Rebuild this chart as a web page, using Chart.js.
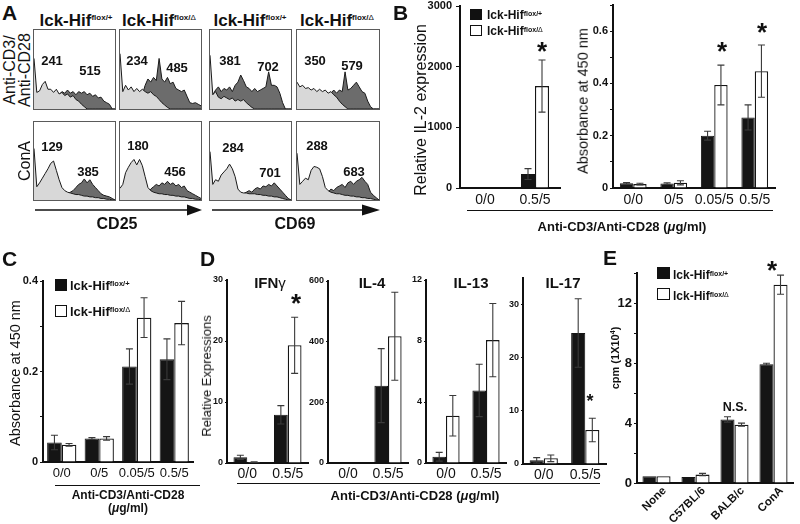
<!DOCTYPE html>
<html><head><meta charset="utf-8">
<script src="https://cdn.jsdelivr.net/npm/chart.js@4.4.1/dist/chart.umd.min.js"></script>
<style>
html,body{margin:0;padding:0;background:#fff;}
body{width:800px;height:524px;overflow:hidden;position:relative;font-family:'Liberation Sans',Arial,Helvetica,sans-serif;color:#111;}
.box{position:absolute;}
.t{position:absolute;white-space:nowrap;line-height:1;color:#111;}
.sq{position:absolute;box-sizing:border-box;}
.rule{position:absolute;height:0;border-top:1.5px solid #111;}
</style></head><body>
<script>
// ===================== DATA =====================
// Panel A: flow histograms (relative counts per bin, 0-100 = box height); light = first peak, dark = second
const hCD3_CD25_fp_light = [64,21,23,31,35,25,25,21,25,19,21,17,19,15,17,12,10,6,3,0,0,0,0,0,0,0,0,0,0,0];
const hCD3_CD25_fp_dark  = [0,0,0,0,0,0,0,0,0,18,22,20,24,20,22,18,22,20,22,18,20,16,18,14,15,10,8,6,0,0];
const hCD3_CD25_fd_light = [70,22,30,24,28,22,26,22,25,22,20,22,18,16,12,8,5,2,0,0,0,0,0,0,0,0,0,0,0,0];
const hCD3_CD25_fd_dark  = [0,0,0,0,0,0,0,0,18,30,38,34,40,36,64,38,34,40,32,34,26,24,22,24,16,8,7,8,6,4];
const hCD3_CD69_fp_light = [68,18,22,15,13,16,14,12,14,10,12,10,12,8,5,2,0,0,0,0,0,0,0,0,0,0,0,0,0,0];
const hCD3_CD69_fp_dark  = [0,18,24,28,22,26,24,28,22,30,34,43,36,28,26,22,26,22,24,26,28,47,30,30,28,20,8,0,0,0];
const hCD3_CD69_fd_light = [34,28,30,26,27,24,26,22,25,22,24,20,22,18,15,10,6,3,0,0,0,0,0,0,0,0,0,0,0,0];
const hCD3_CD69_fd_dark  = [0,0,0,0,0,0,0,0,0,0,0,14,20,24,20,24,22,47,24,26,30,34,28,22,20,10,3,0,0,0];
const hConA_CD25_fp_light = [66,17,22,28,34,40,47,50,38,26,16,12,10,9,8,7,7,6,5,5,4,4,3,3,2,2,1,1,0,0];
const hConA_CD25_fp_dark  = [0,0,0,0,0,0,0,0,0,0,0,0,8,10,12,16,20,22,27,22,26,20,16,12,8,6,5,4,2,0];
const hConA_CD25_fd_light = [15,20,35,42,48,52,45,52,44,30,16,12,10,9,8,8,7,7,6,6,5,5,4,4,3,2,2,1,1,0];
const hConA_CD25_fd_dark  = [0,0,0,0,0,0,0,0,0,0,8,14,17,20,18,22,20,24,20,22,18,20,16,18,12,10,8,6,4,2];
const hConA_CD69_fp_light = [62,20,26,24,32,36,40,46,40,30,14,10,9,9,8,8,8,7,7,6,6,5,5,4,4,3,2,1,0,0];
const hConA_CD69_fp_dark  = [0,0,0,0,0,0,0,0,0,0,0,0,8,10,12,10,14,16,14,18,17,20,18,22,18,14,10,6,2,0];
const hConA_CD69_fd_light = [60,20,24,28,26,38,43,42,40,30,16,12,10,9,8,8,7,6,6,5,5,4,4,3,3,2,2,1,0,0];
const hConA_CD69_fd_dark  = [0,0,0,0,0,0,0,0,0,0,6,10,14,12,16,18,20,16,22,24,20,24,26,29,24,20,10,6,3,0];
const histMfiRow1 = [['241','515'],['234','485'],['381','702'],['350','579']];
const histMfiRow2 = [['129','385'],['180','456'],['284','701'],['288','683']];

// Panel B left: relative IL-2 expression
const bIL2Cats = ['0/0','0.5/5'];
const bIL2Ctrl = [0, 230];     const bIL2CtrlErr = [0, 90];
const bIL2Ko   = [0, 1680];    const bIL2KoErr   = [0, 430];
// Panel B right: absorbance
const bAbsCats = ['0/0','0/5','0.05/5','0.5/5'];
const bAbsCtrl = [0.018,0.017,0.200,0.270]; const bAbsCtrlErr = [0.003,0.003,0.017,0.048];
const bAbsKo   = [0.015,0.020,0.394,0.447]; const bAbsKoErr   = [0.003,0.008,0.076,0.100];
// Panel C
const cCats = ['0/0','0/5','0.05/5','0.5/5'];
const cCtrl = [0.043,0.052,0.211,0.227]; const cCtrlErr = [0.016,0.002,0.039,0.045];
const cKo   = [0.038,0.052,0.319,0.307]; const cKoErr   = [0.003,0.004,0.044,0.048];
// Panel D
const dCats = ['0/0','0.5/5'];
const dIfngCtrl = [0.93,7.9];  const dIfngCtrlErr = [0.33,1.5];
const dIfngKo   = [0.16,19.3]; const dIfngKoErr   = [0.05,4.6];
const dIl4Ctrl  = [2,255];     const dIl4CtrlErr  = [0,122];
const dIl4Ko    = [2,418];     const dIl4KoErr    = [0,145];
const dIl13Ctrl = [0.41,4.76]; const dIl13CtrlErr = [0.29,1.72];
const dIl13Ko   = [3.1,8.06];  const dIl13KoErr   = [1.33,2.4];
const dIl17Ctrl = [0.7,24.65]; const dIl17CtrlErr = [0.5,6.45];
const dIl17Ko   = [1.07,6.4];  const dIl17KoErr   = [0.63,2.2];
// Panel E
const eCats = ['None','C57BL/6','BALB/c','ConA'];
const eCtrl = [0.45,0.40,4.24,7.91]; const eCtrlErr = [0,0,0.18,0.07];
const eKo   = [0.45,0.56,3.89,13.22]; const eKoErr  = [0,0.08,0.10,0.64];

// ===================== HELPERS =====================
Chart.defaults.font.family = "'Liberation Sans', Arial, Helvetica, sans-serif";
Chart.defaults.color = '#111';
Chart.defaults.animation = false;

function T(x,y,html,o={}){
  const d=document.createElement('div'); d.className='t'; d.innerHTML=html;
  d.style.left=x+'px'; d.style.top=y+'px'; d.style.fontSize=(o.s||14)+'px';
  if(o.b) d.style.fontWeight='bold';
  const ax=o.a==='c'?'-50%':o.a==='r'?'-100%':'0';
  d.style.transformOrigin='0 0';
  d.style.transform=(o.rot?`rotate(${o.rot}deg) `:'')+`translate(${ax},-0.85em)`;
  document.body.appendChild(d);
}
function sup(txt,px,raise){return `<span style="font-size:${px}px;position:relative;top:-${raise}px">${txt}</span>`;}
const DELTA='<span style="font-weight:normal">Δ</span>';
function sq(x,y,w,h,fill){const d=document.createElement('div');d.className='sq';
  Object.assign(d.style,{left:x+'px',top:y+'px',width:w+'px',height:h+'px',background:fill?'#111':'#fff',border:'1.2px solid #111'});document.body.appendChild(d);}
function rule(x1,x2,y){const d=document.createElement('div');d.className='rule';
  Object.assign(d.style,{left:x1+'px',top:y+'px',width:(x2-x1)+'px'});document.body.appendChild(d);}

const errPlugin={id:'errbars',afterDatasetsDraw(chart){
  const ctx=chart.ctx, ys=chart.scales.y;
  chart.data.datasets.forEach((ds,i)=>{
    if(!ds.errors) return;
    const meta=chart.getDatasetMeta(i);
    meta.data.forEach((bar,j)=>{
      const e=ds.errors[j]; if(!e) return;
      const v=ds.data[j], x=bar.x, cap=Math.min(3.5,bar.width*0.3);
      const yHi=ys.getPixelForValue(v+e), yLo=ys.getPixelForValue(Math.max(v-e,0));
      ctx.save(); ctx.strokeStyle='#3a3a3a'; ctx.lineWidth=1.1; ctx.beginPath();
      ctx.moveTo(x,yLo); ctx.lineTo(x,yHi);
      ctx.moveTo(x-cap,yHi); ctx.lineTo(x+cap,yHi);
      ctx.moveTo(x-cap,yLo); ctx.lineTo(x+cap,yLo);
      ctx.stroke(); ctx.restore();
    });
  });
}};

function bars(o){
  const yW=o.yW||40, xH=o.xH||32, tp=o.tp||12, rp=o.rp||6, A=o.area;
  const w=A.r-A.l+yW+rp, h=A.b-A.t+tp+xH;
  const div=document.createElement('div'); div.className='box';
  Object.assign(div.style,{left:(A.l-yW)+'px',top:(A.t-tp)+'px',width:w+'px',height:h+'px'});
  const c=document.createElement('canvas'); c.width=w; c.height=h; div.appendChild(c); document.body.appendChild(div);
  const yScale={min:0,max:o.max,
    grid:{display:true,drawOnChartArea:false,drawTicks:true,tickLength:o.tl||3,color:'#111',lineWidth:1},
    border:{display:true,color:'#111',width:2},
    ticks:{stepSize:o.step,font:{size:o.yfs||11,weight:'bold'},color:'#111',padding:o.ypad||2,callback:v=>o.fmt?o.fmt(v):String(v)},
    afterFit:s=>{s.width=yW;}};
  if(o.filt) yScale.afterBuildTicks=s=>{s.ticks=s.ticks.filter(t=>o.filt(t.value));};
  new Chart(c,{type:'bar',plugins:[errPlugin],
    data:{labels:o.labels,datasets:[
      {data:o.a,errors:o.ae,backgroundColor:'#151515',borderColor:'#151515',borderWidth:1,barPercentage:1,categoryPercentage:o.cat},
      {data:o.b,errors:o.be,backgroundColor:'#ffffff',borderColor:'#151515',borderWidth:1.3,barPercentage:1,categoryPercentage:o.cat}]},
    options:{responsive:false,animation:false,events:[],
      layout:{padding:{top:tp,right:rp,left:0,bottom:0}},
      plugins:{legend:{display:false},tooltip:{enabled:false}},
      scales:{
        x:{grid:{display:false,drawTicks:false},border:{display:true,color:'#111',width:2},
           ticks:{font:{size:o.xfs||14,weight:o.xb?'bold':'normal'},color:'#111',padding:o.xpad||4,
                  maxRotation:o.rot||0,minRotation:o.rot||0,autoSkip:false,labelOffset:o.lo||0},
           afterFit:s=>{s.height=xH;}},
        y:yScale}}});
}

function histo(l,t,w,h,light,dark){
  const div=document.createElement('div'); div.className='box';
  Object.assign(div.style,{left:l+'px',top:t+'px',width:w+'px',height:h+'px',boxSizing:'border-box',border:'1px solid #5a5a5a'});
  const c=document.createElement('canvas'); c.width=w-2; c.height=h-2; c.style.display='block';
  div.appendChild(c); document.body.appendChild(div);
  new Chart(c,{type:'line',
    data:{labels:light.map((_,i)=>i),datasets:[
      {data:light,fill:'origin',backgroundColor:'#d8d8d8',borderColor:'#1a1a1a',borderWidth:1,pointRadius:0,tension:0,order:0},
      {data:dark,fill:'origin',backgroundColor:'#6c6c6c',borderColor:'#1a1a1a',borderWidth:1,pointRadius:0,tension:0,order:1}]},
    options:{responsive:false,animation:false,events:[],layout:{padding:0},
      plugins:{legend:{display:false},tooltip:{enabled:false}},
      scales:{x:{display:false,offset:false},y:{display:false,min:0,max:100}}}});
}

// ===================== PANEL A =====================
const colX=[[33,116],[119,202],[209,292],[296,380]];
const rowsY=[[29,110],[121,201]];
const histRows=[
  [[hCD3_CD25_fp_light,hCD3_CD25_fp_dark],[hCD3_CD25_fd_light,hCD3_CD25_fd_dark],[hCD3_CD69_fp_light,hCD3_CD69_fp_dark],[hCD3_CD69_fd_light,hCD3_CD69_fd_dark]],
  [[hConA_CD25_fp_light,hConA_CD25_fp_dark],[hConA_CD25_fd_light,hConA_CD25_fd_dark],[hConA_CD69_fp_light,hConA_CD69_fp_dark],[hConA_CD69_fd_light,hConA_CD69_fd_dark]]];
histRows.forEach((row,r)=>row.forEach((hd,k)=>{
  histo(colX[k][0],rowsY[r][0],colX[k][1]-colX[k][0],rowsY[r][1]-rowsY[r][0],hd[0],hd[1]);
}));
const mfiPos1=[[[52,65],[90,75]],[[137,65],[177,72]],[[230,65],[268,71]],[[315,65],[352,70]]];
const mfiPos2=[[[52,151],[88,176]],[[138,150],[175,176]],[[233,152],[270,177]],[[317,150],[354,176]]];
histMfiRow1.forEach((p,k)=>p.forEach((s,j)=>T(mfiPos1[k][j][0],mfiPos1[k][j][1],s,{s:13,b:1,a:'c'})));
histMfiRow2.forEach((p,k)=>p.forEach((s,j)=>T(mfiPos2[k][j][0],mfiPos2[k][j][1],s,{s:13,b:1,a:'c'})));

T(2,20,'A',{s:21,b:1});
[76,159,250,337].forEach((cx,k)=>T(cx,26,'lck-Hif'+sup(k%2===0?'flox/+':'flox/'+DELTA,8,6.5),{s:17,b:1,a:'c'}));
T(16,70,'Anti-CD3/',{s:16,rot:-90,a:'c'});
T(31,70,'Anti-CD28',{s:16,rot:-90,a:'c'});
T(31,161,'ConA',{s:16,rot:-90,a:'c'});
document.body.insertAdjacentHTML('beforeend',
 `<svg style="position:absolute;left:0;top:0" width="800" height="524">
   <line x1="35" y1="210" x2="189" y2="210" stroke="#111" stroke-width="1.6"/>
   <polygon points="187,204.5 202,210 187,215.5" fill="#111"/>
   <line x1="212" y1="210" x2="364" y2="210" stroke="#111" stroke-width="1.6"/>
   <polygon points="362,204.5 380,210 362,215.5" fill="#111"/>
  </svg>`);
T(117,230,'CD25',{s:16,b:1,a:'c'});
T(295,230,'CD69',{s:16,b:1,a:'c'});

// ===================== PANEL B =====================
T(393,20,'B',{s:21,b:1});
bars({area:{l:460,t:6,r:560,b:188},labels:bIL2Cats,a:bIL2Ctrl,ae:bIL2CtrlErr,b:bIL2Ko,be:bIL2KoErr,
  max:3000,step:1000,yfs:11,tl:4,ypad:4,cat:0.56,xfs:14,xpad:4});
bars({area:{l:613,t:5,r:775,b:188},labels:bAbsCats,a:bAbsCtrl,ae:bAbsCtrlErr,b:bAbsKo,be:bAbsKoErr,
  max:0.7,step:0.1,fmt:v=>{const k=Math.round(v*10);return k%2===0?(k===0?'0':String(k/10)):'';},
  yfs:11,tl:3,ypad:2,cat:0.66,xfs:14,xpad:4});
T(427,110,'Relative IL-2 expression',{s:16,rot:-90,a:'c'});
T(588,101,'Absorbance at 450 nm',{s:14.5,rot:-90,a:'c'});
sq(470,9,12,11,true); T(487,19,'lck-Hif'+sup('flox/+',7,3.5),{s:12,b:1});
sq(470,25,12,11,false); T(487,35,'lck-Hif'+sup('flox/'+DELTA,7,3.5),{s:12,b:1});
T(542,60,'*',{s:26,b:1,a:'c'});
T(722,60,'*',{s:26,b:1,a:'c'});
T(762,41,'*',{s:26,b:1,a:'c'});
rule(467,773,210);
T(622,231,'Anti-CD3/Anti-CD28 (<i>μ</i>g/ml)',{s:13,b:1,a:'c'});

// ===================== PANEL C =====================
T(2,266,'C',{s:21,b:1});
bars({area:{l:43,t:281,r:193,b:462},labels:cCats,a:cCtrl,ae:cCtrlErr,b:cKo,be:cKoErr,
  max:0.4,step:0.1,fmt:v=>{const k=Math.round(v*10);return k%2===0?(k===0?'0':String(k/10)):'';},
  yfs:11,tl:3,ypad:2,cat:0.78,xfs:13,xpad:4});
T(20,373,'Absorbance at 450 nm',{s:14.5,rot:-90,a:'c'});
sq(55,279,12,12,true); T(70,290,'lck-Hif'+sup('flox/+',7.5,3.8),{s:13,b:1});
sq(55,305,12,12,false); T(70,316,'lck-Hif'+sup('flox/'+DELTA,7.5,3.8),{s:13,b:1});
rule(55,200,485);
T(128,499,'Anti-CD3/Anti-CD28',{s:12,b:1,a:'c'});
T(128,512,'(<i>μ</i>g/ml)',{s:12,b:1,a:'c'});

// ===================== PANEL D =====================
T(200,266,'D',{s:21,b:1});
const dOpt={yfs:9,tl:2,ypad:2,cat:0.68,xfs:14,xpad:3,yW:30};
bars(Object.assign({area:{l:227,t:280,r:308,b:463},labels:dCats,a:dIfngCtrl,ae:dIfngCtrlErr,b:dIfngKo,be:dIfngKoErr,max:30,step:10},dOpt));
bars(Object.assign({area:{l:328,t:281,r:408,b:463},labels:dCats,a:dIl4Ctrl,ae:dIl4CtrlErr,b:dIl4Ko,be:dIl4KoErr,max:600,step:200},dOpt));
bars(Object.assign({area:{l:426,t:280,r:506,b:463},labels:dCats,a:dIl13Ctrl,ae:dIl13CtrlErr,b:dIl13Ko,be:dIl13KoErr,max:12,step:4},dOpt));
bars(Object.assign({area:{l:523,t:278,r:606,b:464},labels:dCats,a:dIl17Ctrl,ae:dIl17CtrlErr,b:dIl17Ko,be:dIl17KoErr,max:35,step:10,filt:v=>v%10===0},dOpt));
T(270,288,'IFN<span style="font-weight:normal">γ</span>',{s:15,b:1,a:'c'});
T(372,288,'IL-4',{s:15,b:1,a:'c'});
T(471,288,'IL-13',{s:15,b:1,a:'c'});
T(563,288,'IL-17',{s:15,b:1,a:'c'});
T(211,376,'Relative Expressions',{s:13,rot:-90,a:'c'});
T(296,312,'*',{s:26,b:1,a:'c'});
T(590,407,'*',{s:18,b:1,a:'c'});
rule(237,600,483);
T(415,500,'Anti-CD3/Anti-CD28 (<i>μ</i>g/ml)',{s:13,b:1,a:'c'});

// ===================== PANEL E =====================
T(603,265,'E',{s:21,b:1});
bars({area:{l:637,t:273,r:793,b:483},labels:eCats,a:eCtrl,ae:eCtrlErr,b:eKo,be:eKoErr,
  max:14,step:2,fmt:v=>(Math.round(v)%4===0?String(Math.round(v)):''),
  yfs:13,tl:3,ypad:2,cat:0.72,xfs:11.5,xb:1,rot:45,xpad:1,xH:41,rp:5,lo:8});
T(618,358,'cpm (1X10<sup style="font-size:7px">4</sup>)',{s:11,b:1,rot:-90,a:'c'});
sq(657,267,13,12,true); T(673,279,'lck-Hif'+sup('flox/+',7,3.5),{s:12,b:1});
sq(657,288,13,12,false); T(673,300,'lck-Hif'+sup('flox/'+DELTA,7,3.5),{s:12,b:1});
T(735,412,'N.S.',{s:12.5,b:1,a:'c'});
T(772,279,'*',{s:26,b:1,a:'c'});
</script>
</body></html>
